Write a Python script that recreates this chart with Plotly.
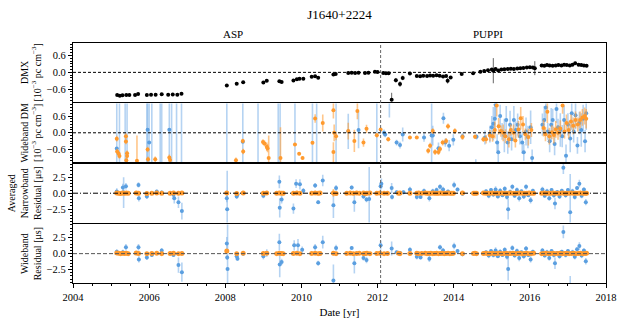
"""Timing summary chart for J1640+2224: DMX, wideband DM and residuals."""

import plotly.graph_objects as go
from plotly.subplots import make_subplots

# ---------------------------------------------------------------- DMX (black)
dmx_year = [
    2005.16, 2005.23, 2005.30, 2005.40, 2005.48, 2005.63, 2005.71, 2005.94, 2006.05, 2006.17,
    2006.33, 2006.50, 2006.62, 2006.74, 2006.85, 2008.04, 2008.30, 2008.47, 2009.00, 2009.09,
    2009.42, 2009.48, 2009.79, 2009.88, 2009.95, 2010.05, 2010.27, 2010.36, 2010.44, 2010.84,
    2010.90, 2011.23, 2011.32, 2011.41, 2011.50, 2011.67, 2011.76, 2011.93, 2012.00, 2012.15,
    2012.22, 2012.29, 2012.37, 2012.48, 2012.59, 2012.66, 2012.85, 2013.03, 2013.12, 2013.20,
    2013.30, 2013.38, 2013.46, 2013.55, 2013.63, 2013.72, 2013.80, 2013.84, 2013.92, 2014.21,
    2014.51, 2014.70, 2014.80, 2014.90, 2015.00, 2015.04, 2015.10, 2015.17, 2015.25, 2015.33,
    2015.42, 2015.50, 2015.58, 2015.67, 2015.75, 2015.83, 2015.92, 2016.00, 2016.08, 2016.13,
    2016.31, 2016.38, 2016.45, 2016.52, 2016.60, 2016.68, 2016.75, 2016.83, 2016.90, 2016.97,
    2017.05, 2017.12, 2017.19, 2017.28, 2017.35, 2017.42, 2017.49,
]
dmx_value = [
    -0.81, -0.84, -0.82, -0.81, -0.81, -0.81, -0.77, -0.81, -0.80, -0.80,
    -0.78, -0.80, -0.79, -0.80, -0.76, -0.47, -0.41, -0.35, -0.36, -0.30,
    -0.32, -0.34, -0.29, -0.25, -0.23, -0.23, -0.16, -0.14, -0.19, -0.08,
    -0.06, -0.02, -0.01, -0.02, -0.01, -0.02, -0.01, 0.02, 0.01, -0.02,
    -0.03, -0.03, -0.98, -0.28, -0.42, -0.20, -0.04, -0.13, -0.14, -0.12,
    -0.13, -0.11, -0.12, -0.10, -0.12, -0.15, -0.13, -0.30, -0.18, -0.06,
    -0.03, 0.02, 0.05, 0.08, 0.10, 0.06, 0.12, 0.07, 0.10, 0.11,
    0.12, 0.13, 0.12, 0.14, 0.15, 0.16, 0.17, 0.18, 0.17, 0.15,
    0.25, 0.24, 0.26, 0.25, 0.24, 0.25, 0.26, 0.25, 0.27, 0.26,
    0.25, 0.27, 0.33, 0.27, 0.26, 0.25, 0.24,
]
dmx_error = [
    0.03, 0.03, 0.02, 0.03, 0.02, 0.03, 0.03, 0.02, 0.02, 0.03,
    0.02, 0.03, 0.02, 0.03, 0.03, 0.03, 0.03, 0.03, 0.02, 0.03,
    0.03, 0.03, 0.02, 0.03, 0.03, 0.02, 0.02, 0.03, 0.03, 0.02,
    0.02, 0.02, 0.02, 0.02, 0.02, 0.02, 0.02, 0.02, 0.02, 0.02,
    0.03, 0.02, 0.25, 0.08, 0.10, 0.08, 0.03, 0.03, 0.03, 0.03,
    0.03, 0.03, 0.03, 0.03, 0.03, 0.03, 0.03, 0.10, 0.04, 0.03,
    0.03, 0.03, 0.03, 0.03, 0.04, 0.45, 0.04, 0.03, 0.03, 0.03,
    0.03, 0.03, 0.03, 0.03, 0.03, 0.03, 0.03, 0.03, 0.03, 0.25,
    0.03, 0.03, 0.03, 0.03, 0.03, 0.03, 0.03, 0.03, 0.03, 0.03,
    0.03, 0.03, 0.05, 0.03, 0.03, 0.03, 0.03,
]

# ------------------------------------------------------- wideband DM (blue)
wbdm_blue_year = [
    2005.15, 2005.22, 2005.37, 2005.42, 2005.94, 2005.96, 2006.00, 2006.07, 2006.29, 2006.33,
    2006.53, 2006.59, 2006.72, 2006.85, 2008.04, 2008.46, 2008.86, 2009.39, 2009.44, 2009.83,
    2010.29, 2010.40, 2010.91, 2011.23, 2011.50, 2011.98, 2012.17, 2012.20, 2012.31, 2012.50,
    2012.59, 2012.66, 2013.22, 2013.42, 2013.45, 2013.60, 2013.73, 2013.78, 2013.88, 2013.99,
    2014.23, 2014.58, 2014.60, 2014.82, 2014.95, 2015.00, 2015.04, 2015.08, 2015.10, 2015.14,
    2015.17, 2015.22, 2015.27, 2015.33, 2015.38, 2015.42, 2015.48, 2015.52, 2015.58, 2015.63,
    2015.68, 2015.74, 2015.80, 2015.84, 2015.90, 2015.95, 2016.02, 2016.06, 2016.33, 2016.38,
    2016.42, 2016.47, 2016.52, 2016.56, 2016.60, 2016.65, 2016.70, 2016.74, 2016.80, 2016.85,
    2016.90, 2016.95, 2017.00, 2017.06, 2017.10, 2017.15, 2017.20, 2017.25, 2017.30, 2017.35,
    2017.40, 2017.45, 2017.48,
]
wbdm_blue_value = [
    -0.56, -1.50, -1.40, 1.30, -1.60, 0.11, -0.35, -1.80, 1.40, -1.50,
    0.11, -1.30, 1.50, -1.60, -1.50, -0.32, 1.30, -1.40, 1.40, -1.60,
    1.50, -1.50, -1.30, 0.05, 0.10, 1.40, 0.00, -0.06, 1.20, -0.35,
    -0.44, -0.06, -0.17, -0.10, -0.10, -0.55, 0.52, -0.35, -0.46, -0.25,
    -0.12, -1.15, -0.14, -0.17, -0.05, 0.20, 0.32, 0.50, 1.00, -0.35,
    -0.70, 0.60, 0.05, -0.10, 0.46, -0.35, 0.29, -0.23, 0.46, 0.10,
    0.29, -0.12, -0.35, -0.70, 0.05, -0.15, 0.20, -0.90, 0.29, 0.46,
    0.90, 0.05, -0.30, 0.29, 0.46, -0.40, 0.85, 0.20, 0.10, -0.12,
    0.46, -0.82, 0.30, -0.20, 0.70, 0.05, 0.63, -0.45, 0.35, 0.10,
    0.50, -0.30, 0.70,
]
wbdm_blue_error = [
    2.50, 2.80, 2.80, 2.60, 2.90, 2.20, 2.00, 3.00, 2.70, 2.80,
    2.00, 2.60, 2.80, 3.00, 2.90, 2.00, 2.70, 2.80, 2.90, 3.00,
    2.90, 2.80, 3.00, 0.63, 0.65, 2.90, 0.12, 0.10, 0.65, 0.10,
    0.12, 0.25, 0.15, 1.50, 0.35, 0.20, 0.20, 0.15, 0.20, 0.20,
    0.12, 0.20, 0.10, 0.25, 0.30, 0.40, 0.60, 0.50, 0.50, 0.30,
    0.40, 0.40, 0.30, 0.60, 0.50, 0.40, 0.50, 0.40, 0.50, 0.30,
    0.40, 0.30, 0.40, 0.30, 0.50, 0.40, 0.60, 0.30, 0.40, 0.50,
    0.40, 0.30, 0.40, 0.60, 0.40, 0.40, 0.50, 0.30, 0.60, 0.40,
    0.50, 0.40, 0.40, 0.50, 0.60, 0.40, 0.50, 0.30, 0.40, 0.60,
    0.50, 0.40, 0.60,
]

# ----------------------------------------------------- wideband DM (orange)
wbdm_orange_year = [
    2005.15, 2005.16, 2005.20, 2005.22, 2005.39, 2005.39, 2005.42, 2005.42, 2005.40, 2005.68,
    2005.96, 2005.97, 2006.16, 2006.53, 2006.55, 2008.28, 2008.46, 2008.47, 2008.99, 2009.03,
    2009.09, 2009.11, 2009.14, 2009.45, 2009.83, 2009.94, 2010.03, 2010.29, 2010.36, 2010.56,
    2010.84, 2010.84, 2010.86, 2010.91, 2011.23, 2011.39, 2011.47, 2011.63, 2011.71, 2011.98,
    2012.08, 2012.28, 2012.85, 2013.03, 2013.33, 2013.38, 2013.45, 2013.51, 2013.60, 2013.64,
    2013.71, 2013.80, 2013.85, 2014.03, 2014.23, 2014.56, 2014.78, 2014.85, 2014.95, 2015.02,
    2015.08, 2015.13, 2015.18, 2015.24, 2015.30, 2015.36, 2015.45, 2015.50, 2015.57, 2015.62,
    2015.70, 2015.76, 2015.82, 2015.88, 2015.96, 2016.04, 2016.36, 2016.41, 2016.46, 2016.51,
    2016.58, 2016.63, 2016.68, 2016.74, 2016.80, 2016.86, 2016.91, 2016.96, 2017.02, 2017.08,
    2017.14, 2017.20, 2017.26, 2017.32, 2017.38, 2017.44, 2017.48,
]
wbdm_orange_value = [
    -0.21, -0.67, -0.75, -0.83, -0.12, -0.31, -0.73, -0.83, -0.98, -1.00,
    -0.60, -0.95, -0.95, -0.88, -0.97, -0.98, -0.29, -0.67, -0.33, -0.38,
    -0.50, -0.55, -0.90, -0.90, -0.42, -0.75, -0.90, -0.36, 0.51, 0.35,
    0.81, -0.69, 0.00, -0.12, 0.06, -0.29, 0.78, -0.35, 0.14, -0.09,
    0.12, -0.23, -0.17, -0.17, -0.64, -0.46, 0.06, -0.69, -0.69, -0.58,
    -0.35, -0.29, 0.23, 0.06, -0.15, -0.14, -0.23, -0.23, -0.10, -0.12,
    0.10, 0.98, 0.23, 0.06, 0.00, -0.12, -0.23, 0.10, 0.00, -0.28,
    0.12, 0.52, 0.30, -0.05, -0.15, 0.10, 0.17, -0.05, 0.75, -0.12,
    0.02, -0.08, 0.12, 0.00, 0.15, 0.98, 0.05, 0.35, 0.10, 0.40,
    0.25, 0.46, 0.30, 0.46, 0.55, 0.60, 0.50,
]
wbdm_orange_error = [
    0.10, 0.10, 0.10, 0.10, 0.10, 0.10, 0.10, 0.08, 0.10, 0.90,
    0.10, 0.10, 0.10, 0.10, 0.10, 0.10, 0.08, 0.10, 0.10, 0.10,
    0.15, 0.15, 0.80, 1.10, 0.05, 0.05, 0.05, 0.05, 0.15, 0.30,
    0.30, 0.35, 0.30, 0.15, 0.30, 0.40, 0.30, 0.15, 0.15, 0.08,
    0.05, 0.08, 0.05, 0.05, 0.10, 0.10, 0.10, 0.10, 0.10, 0.10,
    0.10, 0.10, 0.10, 0.10, 0.10, 0.08, 0.10, 0.15, 0.20, 0.20,
    0.30, 0.40, 0.30, 0.20, 0.30, 0.25, 0.30, 0.20, 0.30, 0.25,
    0.30, 0.40, 0.30, 0.20, 0.30, 0.25, 0.30, 0.25, 0.40, 0.30,
    0.25, 0.30, 0.30, 0.25, 0.30, 0.30, 0.25, 0.30, 0.30, 0.25,
    0.30, 0.30, 0.25, 0.30, 0.30, 0.30, 0.35,
]

# ------------------------------------------ residual epochs (orange, both panels)
resid_orange_year = [
    2005.15, 2005.20, 2005.25, 2005.30, 2005.35, 2005.40, 2005.45, 2005.66, 2005.72, 2005.94,
    2006.07, 2006.20, 2006.33, 2006.55, 2006.64, 2006.77, 2006.86, 2008.04, 2008.30, 2008.47,
    2009.00, 2009.09, 2009.35, 2009.42, 2009.48, 2009.52, 2009.79, 2009.88, 2009.96, 2010.27,
    2010.36, 2010.44, 2010.49, 2010.84, 2010.91, 2011.19, 2011.28, 2011.36, 2011.45, 2011.52,
    2011.63, 2011.68, 2011.72, 2011.80, 2011.98, 2012.06, 2012.17, 2012.26, 2012.55, 2012.59,
    2012.85, 2013.03, 2013.08, 2013.16, 2013.25, 2013.30, 2013.35, 2013.40, 2013.45, 2013.50,
    2013.55, 2013.60, 2013.65, 2013.70, 2013.75, 2013.80, 2013.85, 2013.90, 2013.95, 2013.99,
    2014.23, 2014.52, 2014.56, 2014.60, 2014.78, 2014.84, 2014.90, 2014.96, 2015.02, 2015.08,
    2015.14, 2015.20, 2015.26, 2015.32, 2015.38, 2015.44, 2015.50, 2015.56, 2015.62, 2015.68,
    2015.74, 2015.80, 2015.86, 2015.92, 2015.98, 2016.04, 2016.10, 2016.31, 2016.37, 2016.43,
    2016.49, 2016.55, 2016.61, 2016.67, 2016.73, 2016.79, 2016.85, 2016.91, 2016.97, 2017.03,
    2017.09, 2017.15, 2017.21, 2017.27, 2017.33, 2017.39, 2017.45, 2017.49,
]
nb_orange_value = [
    0.05, 0.00, -0.05, 0.02, 0.00, 0.03, -0.02, 0.05, 0.00, -0.03,
    0.00, 0.02, 0.00, -0.02, 0.03, 0.00, 0.02, 0.05, -0.03, 0.02,
    0.00, 0.04, -0.02, 0.03, 0.00, -0.02, 0.00, 0.02, 0.00, -0.02,
    0.03, 0.00, 0.02, 0.05, -0.03, 0.00, 0.02, -0.02, 0.03, 0.00,
    0.02, -0.03, 0.00, 0.02, 0.00, 0.02, 0.00, -0.02, 0.00, 0.02,
    0.00, -0.02, 0.02, 0.00, 0.02, 0.00, -0.02, 0.00, 0.02, 0.00,
    -0.02, 0.00, 0.02, 0.00, -0.02, 0.00, 0.02, 0.00, -0.02, 0.00,
    0.02, 0.00, -0.02, 0.00, 0.02, 0.00, -0.02, 0.00, 0.02, 0.00,
    -0.02, 0.00, 0.02, 0.00, -0.02, 0.00, 0.02, 0.00, -0.02, 0.00,
    0.02, 0.00, -0.02, 0.00, 0.02, 0.00, -0.02, 0.00, 0.02, 0.00,
    -0.02, 0.00, 0.02, 0.00, -0.02, 0.00, 0.02, 0.00, -0.02, 0.00,
    0.02, 0.00, -0.02, 0.00, 0.02, 0.00, -0.02, 0.00,
]
nb_orange_error = [
    0.20, 0.25, 0.20, 0.15, 0.20, 0.30, 0.20, 0.25, 0.20, 0.20,
    0.15, 0.20, 0.15, 0.20, 0.20, 0.15, 0.20, 0.20, 0.15, 0.20,
    0.15, 0.20, 0.15, 0.20, 0.25, 0.15, 0.15, 0.15, 0.15, 0.15,
    0.15, 0.15, 0.15, 0.60, 0.20, 0.15, 0.15, 0.15, 0.15, 0.15,
    0.15, 0.15, 0.15, 0.15, 0.15, 0.10, 0.10, 0.10, 0.10, 0.10,
    0.10, 0.10, 0.10, 0.10, 0.15, 0.10, 0.15, 0.10, 0.15, 0.10,
    0.15, 0.10, 0.15, 0.10, 0.15, 0.10, 0.15, 0.10, 0.15, 0.10,
    0.10, 0.10, 0.10, 0.10, 0.15, 0.15, 0.15, 0.15, 0.15, 0.15,
    0.15, 0.15, 0.15, 0.15, 0.15, 0.15, 0.15, 0.15, 0.15, 0.15,
    0.15, 0.15, 0.15, 0.15, 0.15, 0.15, 0.15, 0.15, 0.15, 0.15,
    0.15, 0.15, 0.15, 0.15, 0.15, 0.15, 0.15, 0.15, 0.15, 0.15,
    0.15, 0.15, 0.15, 0.15, 0.15, 0.15, 0.15, 0.15,
]
wb_orange_value = [
    0.10, 0.05, 0.00, 0.05, 0.02, 0.05, 0.00, 0.08, 0.02, 0.00,
    0.02, 0.05, 0.00, 0.02, 0.05, 0.00, 0.02, 0.40, 0.00, 0.05,
    0.02, 0.05, 0.00, 0.05, 0.02, 0.00, 0.02, 0.05, 0.00, 0.02,
    0.05, 0.00, 0.02, 0.05, 0.00, 0.02, 0.05, 0.00, 0.02, 0.05,
    0.00, 0.02, 0.05, 0.00, 0.02, 0.05, 0.00, 0.02, 0.05, 0.00,
    0.02, 0.05, 0.00, 0.02, 0.05, 0.00, 0.02, 0.05, 0.00, 0.02,
    0.05, 0.00, 0.02, 0.05, 0.00, 0.02, 0.05, 0.00, 0.02, 0.05,
    0.00, 0.02, 0.05, 0.00, 0.02, 0.05, 0.00, 0.02, 0.05, 0.00,
    0.02, 0.05, 0.00, 0.02, 0.05, 0.00, 0.02, 0.05, 0.00, 0.02,
    0.05, 0.00, 0.02, 0.05, 0.00, 0.02, 0.05, 0.00, 0.02, 0.05,
    0.00, 0.02, 0.05, 0.00, 0.02, 0.05, 0.00, 0.02, 0.05, 0.00,
    0.02, 0.05, 0.00, 0.02, 0.05, 0.00, 0.02, 0.05,
]
wb_orange_error = [
    0.25, 0.20, 0.25, 0.20, 0.20, 0.30, 0.20, 0.25, 0.20, 0.20,
    0.20, 0.20, 0.20, 0.20, 0.20, 0.20, 0.20, 0.30, 0.20, 0.20,
    0.20, 0.20, 0.20, 0.20, 0.25, 0.20, 0.20, 0.20, 0.20, 0.15,
    0.15, 0.15, 0.15, 0.35, 0.20, 0.15, 0.15, 0.15, 0.15, 0.15,
    0.15, 0.15, 0.15, 0.15, 0.15, 0.10, 0.10, 0.10, 0.10, 0.10,
    0.10, 0.10, 0.10, 0.10, 0.15, 0.10, 0.15, 0.10, 0.15, 0.10,
    0.15, 0.10, 0.15, 0.10, 0.15, 0.10, 0.15, 0.10, 0.15, 0.10,
    0.10, 0.10, 0.10, 0.10, 0.15, 0.15, 0.15, 0.15, 0.15, 0.15,
    0.15, 0.15, 0.15, 0.15, 0.15, 0.15, 0.15, 0.15, 0.15, 0.15,
    0.15, 0.15, 0.15, 0.15, 0.15, 0.15, 0.15, 0.15, 0.15, 0.15,
    0.15, 0.15, 0.15, 0.15, 0.15, 0.15, 0.15, 0.15, 0.15, 0.15,
    0.15, 0.15, 0.15, 0.15, 0.15, 0.15, 0.15, 0.15,
]

# ------------------------------------- averaged narrowband residual (blue)
nb_blue_year = [
    2005.15, 2005.31, 2005.33, 2005.39, 2005.72, 2005.73, 2005.94, 2006.07, 2006.20, 2006.33,
    2006.64, 2006.66, 2006.77, 2006.86, 2008.04, 2008.05, 2008.30, 2008.32, 2009.00, 2009.42,
    2009.43, 2009.48, 2009.79, 2009.86, 2009.96, 2010.05, 2010.36, 2010.44, 2010.56, 2010.84,
    2010.91, 2011.32, 2011.39, 2011.63, 2011.71, 2011.78, 2012.08, 2012.10, 2012.37, 2012.38,
    2012.50, 2012.59, 2012.68, 2012.85, 2013.03, 2013.13, 2013.22, 2013.36, 2013.45, 2013.55,
    2013.64, 2013.72, 2013.85, 2014.01, 2014.10, 2014.23, 2014.85, 2014.92, 2014.98, 2015.04,
    2015.10, 2015.16, 2015.22, 2015.28, 2015.34, 2015.40, 2015.43, 2015.48, 2015.54, 2015.60,
    2015.66, 2015.72, 2015.78, 2015.84, 2015.90, 2015.96, 2016.02, 2016.08, 2016.33, 2016.39,
    2016.45, 2016.51, 2016.57, 2016.63, 2016.66, 2016.72, 2016.78, 2016.84, 2016.88, 2016.94,
    2017.00, 2017.06, 2017.12, 2017.18, 2017.24, 2017.30, 2017.36, 2017.42, 2017.47,
]
nb_blue_value = [
    0.26, 0.90, 0.10, 1.10, 1.30, -0.80, -0.50, 0.00, 0.26, 0.10,
    -0.26, -0.80, -1.40, -2.80, -0.80, -2.50, -0.50, -0.20, -0.40, 1.78,
    -2.29, -1.00, -2.40, 1.50, 1.40, 0.40, 1.20, -1.40, 2.00, -1.90,
    0.80, 0.90, -1.40, -0.50, -1.00, -0.90, 1.10, 1.50, 0.80, -0.60,
    0.15, 0.00, 0.15, 0.60, -0.60, -0.60, 0.35, -0.80, 0.30, 0.50,
    1.00, 0.60, 0.25, 1.30, 0.60, -0.10, 0.30, -0.40, 0.50, -0.20,
    0.60, -0.50, 0.40, -0.30, 0.70, -0.60, -2.50, 0.20, 1.00, -0.40,
    0.50, -0.80, 0.30, -0.50, 1.00, -0.30, -1.10, 0.40, 0.60, -0.40,
    0.30, -0.80, 0.50, -0.30, -1.60, 0.20, -0.50, 0.40, 4.00, -0.30,
    0.50, -3.00, 0.30, -0.60, 0.80, 1.50, -0.40, 0.60, -1.40,
]
nb_blue_error = [
    0.50, 0.60, 2.40, 0.50, 0.40, 0.50, 0.40, 0.30, 0.30, 0.30,
    0.40, 0.80, 0.90, 1.30, 0.60, 6.00, 0.40, 0.30, 0.40, 1.00,
    1.50, 0.60, 0.80, 0.70, 0.80, 0.40, 0.40, 0.30, 0.90, 2.00,
    0.50, 0.30, 1.50, 0.40, 0.40, 5.00, 0.60, 0.80, 0.80, 0.40,
    0.30, 0.30, 0.30, 0.40, 0.40, 0.30, 0.40, 0.50, 0.40, 0.40,
    0.40, 0.40, 0.30, 0.50, 0.30, 0.30, 0.30, 0.40, 0.30, 0.40,
    0.50, 0.30, 0.40, 0.30, 0.40, 0.40, 1.60, 0.40, 0.40, 0.30,
    0.40, 0.50, 0.30, 0.40, 0.40, 0.30, 0.50, 0.30, 0.40, 0.30,
    0.40, 0.40, 0.30, 0.40, 0.90, 0.30, 0.40, 0.30, 1.00, 0.40,
    0.30, 6.00, 0.40, 0.40, 0.30, 0.60, 0.40, 0.30, 0.50,
]

# ----------------------------------------------- wideband residual (blue)
wb_blue_year = [
    2005.15, 2005.31, 2005.39, 2005.72, 2005.73, 2005.94, 2006.07, 2006.33, 2006.64, 2006.77,
    2006.86, 2008.04, 2008.05, 2008.06, 2008.30, 2008.32, 2008.47, 2009.00, 2009.09, 2009.42,
    2009.43, 2009.48, 2009.81, 2009.91, 2010.02, 2010.36, 2010.44, 2010.56, 2010.84, 2010.91,
    2011.32, 2011.39, 2011.63, 2011.71, 2012.08, 2012.37, 2012.50, 2012.59, 2012.85, 2013.03,
    2013.13, 2013.36, 2013.64, 2013.72, 2014.01, 2014.10, 2014.23, 2014.85, 2014.92, 2014.98,
    2015.04, 2015.10, 2015.16, 2015.22, 2015.28, 2015.34, 2015.40, 2015.43, 2015.48, 2015.54,
    2015.60, 2015.66, 2015.72, 2015.78, 2015.84, 2015.90, 2015.96, 2016.02, 2016.08, 2016.33,
    2016.39, 2016.45, 2016.51, 2016.57, 2016.63, 2016.66, 2016.72, 2016.78, 2016.84, 2016.88,
    2016.94, 2017.00, 2017.06, 2017.12, 2017.18, 2017.24, 2017.30, 2017.36, 2017.42, 2017.47,
]
wb_blue_value = [
    0.30, 0.20, 1.00, 1.00, -0.90, -0.60, -0.20, 0.50, -0.20, -1.80,
    -2.90, 1.60, -0.60, -2.40, -0.40, -0.80, 0.00, -0.40, 0.10, 1.80,
    -1.70, -1.30, 1.30, 1.30, 0.60, 1.00, -1.50, 1.80, -4.20, 0.90,
    0.90, -1.50, -0.70, -1.00, 1.30, 0.80, 0.20, 0.10, 0.60, -0.50,
    -0.60, -0.80, 1.00, 0.50, 1.20, 0.40, -0.10, 0.20, -0.30, 0.40,
    -0.20, 0.50, -0.40, 0.30, -0.20, 0.60, -0.50, -2.40, 0.10, 0.90,
    -0.30, 0.40, -0.70, 0.20, -0.40, 0.80, -0.20, -0.90, 0.30, 0.50,
    -0.30, 0.20, -0.70, 0.40, -0.20, -1.50, 0.10, -0.40, 0.30, 3.40,
    -0.20, 0.40, -5.50, 0.20, -0.50, 0.70, 1.20, -0.30, 0.50, -1.20,
]
wb_blue_error = [
    0.40, 0.40, 0.50, 0.50, 0.50, 0.40, 0.30, 0.40, 0.30, 1.20,
    1.50, 1.00, 0.40, 7.00, 0.40, 0.30, 0.30, 0.50, 0.60, 1.30,
    2.00, 0.50, 0.80, 1.00, 0.50, 0.50, 0.40, 1.00, 2.50, 0.50,
    0.30, 1.60, 0.40, 0.50, 0.70, 1.10, 0.30, 0.30, 0.40, 0.40,
    0.30, 0.50, 0.40, 0.40, 0.50, 0.30, 0.30, 0.30, 0.40, 0.30,
    0.40, 0.50, 0.30, 0.40, 0.30, 0.40, 0.40, 1.80, 0.40, 0.40,
    0.30, 0.40, 0.50, 0.30, 0.40, 0.40, 0.30, 0.50, 0.30, 0.40,
    0.30, 0.40, 0.40, 0.30, 0.40, 0.90, 0.30, 0.40, 0.30, 1.00,
    0.40, 0.30, 2.00, 0.40, 0.40, 0.30, 0.60, 0.40, 0.30, 0.50,
]

BLUE = "#5b9fe0"
BLUE_BAR = "rgba(120,175,232,0.55)"
ORANGE = "#ff9a2e"
ORANGE_BAR = "rgba(255,160,60,0.6)"
FONT = "Liberation Serif"


def errpoints(x, y, err, color, bar_color, size=4, thickness=1.6):
    """Scatter markers with plain vertical error bars (no caps)."""
    return go.Scatter(
        x=x, y=y, mode="markers",
        marker=dict(color=color, size=size, line=dict(width=0)),
        error_y=dict(type="data", array=err, color=bar_color,
                     thickness=thickness, width=0),
        showlegend=False, hoverinfo="skip",
    )


fig = make_subplots(rows=4, cols=1, shared_xaxes=True, vertical_spacing=0.007)

fig.add_trace(errpoints(dmx_year, dmx_value, dmx_error, "black", "#666666",
                        size=4, thickness=1), row=1, col=1)
fig.add_trace(errpoints(wbdm_blue_year, wbdm_blue_value, wbdm_blue_error,
                        BLUE, BLUE_BAR), row=2, col=1)
fig.add_trace(errpoints(wbdm_orange_year, wbdm_orange_value, wbdm_orange_error,
                        ORANGE, ORANGE_BAR), row=2, col=1)
fig.add_trace(errpoints(nb_blue_year, nb_blue_value, nb_blue_error,
                        BLUE, BLUE_BAR), row=3, col=1)
fig.add_trace(errpoints(resid_orange_year, nb_orange_value, nb_orange_error,
                        ORANGE, ORANGE_BAR, size=5), row=3, col=1)
fig.add_trace(errpoints(wb_blue_year, wb_blue_value, wb_blue_error,
                        BLUE, BLUE_BAR), row=4, col=1)
fig.add_trace(errpoints(resid_orange_year, wb_orange_value, wb_orange_error,
                        ORANGE, ORANGE_BAR, size=5), row=4, col=1)

# zero lines
zero_styles = [
    ("black", "3px,2px"),
    ("black", "3px,2px"),
    ("black", "5px,2px,1px,2px"),
    ("#555555", "4px,2px"),
]
for r, (col, dash) in enumerate(zero_styles, start=1):
    fig.add_hline(y=0, row=r, col=1, line=dict(color=col, width=1, dash=dash))

# backend change ASP -> PUPPI
fig.add_shape(type="line", xref="x", yref="paper", x0=2012.08, x1=2012.08,
              y0=0, y1=1, line=dict(color="#666666", width=1, dash="3px,2px"))

y_titles = [
    "DMX<br>[10<sup>−3</sup> pc cm<sup>−3</sup>]",
    "Wideband DM<br>[10<sup>−3</sup> pc cm<sup>−3</sup>]",
    "Averaged<br>Narrowband<br>Residual [μs]",
    "Wideband<br>Residual [μs]",
]
y_ranges = [[-1.05, 1.05], [-1.05, 1.05], [-4.6, 4.6], [-4.6, 4.6]]
y_dticks = [(0.6, 0.1), (0.6, 0.1), (2.5, 0.5), (2.5, 0.5)]

axis_common = dict(showline=True, mirror=True, linecolor="black", linewidth=1.3,
                   showgrid=False, zeroline=False, tickcolor="black",
                   tickfont=dict(family=FONT, size=10.5, color="black"))

for r in range(1, 5):
    major, minor = y_dticks[r - 1]
    fig.update_yaxes(
        row=r, col=1, range=y_ranges[r - 1], dtick=major, tick0=0, tickformat=".1f",
        ticks="outside", ticklen=4, tickwidth=1,
        minor=dict(ticks="outside", ticklen=2, dtick=minor, tick0=0, tickcolor="black"),
        title=dict(text=y_titles[r - 1], standoff=3,
                   font=dict(family=FONT, size=10, color="black")),
        **axis_common,
    )
    fig.update_xaxes(row=r, col=1, range=[2004, 2018], dtick=2, tick0=2004,
                     ticks="outside" if r == 4 else "", ticklen=4, tickwidth=1,
                     **axis_common)

fig.update_xaxes(
    row=4, col=1,
    minor=dict(ticks="outside", ticklen=2, dtick=0.5, tick0=2004, tickcolor="black"),
    title=dict(text="Date [yr]", standoff=6, font=dict(family=FONT, size=11, color="black")),
)

fig.add_annotation(text="ASP", x=2008.2, xref="x", y=1, yref="paper", yanchor="bottom",
                   yshift=1, showarrow=False, font=dict(family=FONT, size=11, color="black"))
fig.add_annotation(text="PUPPI", x=2014.9, xref="x", y=1, yref="paper", yanchor="bottom",
                   yshift=1, showarrow=False, font=dict(family=FONT, size=11, color="black"))

fig.update_layout(
    template="none",
    width=625, height=326,
    margin=dict(l=73, r=19, t=43, b=43),
    paper_bgcolor="white", plot_bgcolor="white",
    font=dict(family=FONT, size=11, color="black"),
    title=dict(text="J1640+2224", x=0.5, xref="paper", y=0.957, yanchor="middle",
               font=dict(family=FONT, size=13, color="black")),
    showlegend=False,
)

# the page body has a default margin; remove it so the figure sits at the window origin
fig.write_html("out.html", config={"displayModeBar": False},
               post_script="document.body.style.margin='0px';")
